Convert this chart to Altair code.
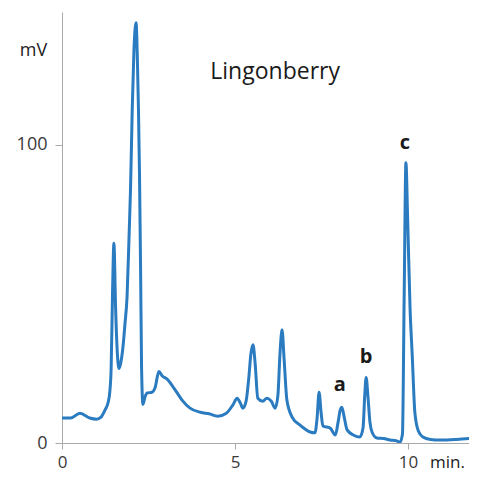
import altair as alt
import pandas as pd

# retention time (min) and detector signal (mV)
time_min = [0, 0.25, 0.52, 0.8, 1.0, 1.12, 1.24, 1.33, 1.38, 1.42, 1.46, 1.50, 1.55, 1.60, 1.65,
            1.70, 1.76, 1.82, 1.88, 1.94, 1.98, 2.03, 2.08, 2.14, 2.18, 2.21, 2.24, 2.27, 2.30,
            2.34, 2.40, 2.46, 2.60, 2.69, 2.80, 2.90, 3.03, 3.27, 3.47, 3.70, 4.0, 4.25, 4.50,
            4.75, 4.94, 5.06, 5.15, 5.23, 5.32, 5.40, 5.46, 5.52, 5.58, 5.66, 5.80, 5.92, 6.05,
            6.16, 6.24, 6.30, 6.36, 6.42, 6.50, 6.65, 6.88, 7.17, 7.31, 7.37, 7.43, 7.49, 7.54,
            7.75, 7.90, 7.98, 8.04, 8.09, 8.15, 8.24, 8.42, 8.61, 8.70, 8.75, 8.79, 8.84, 8.90,
            8.96, 9.10, 9.30, 9.48, 9.65, 9.77, 9.84, 9.89, 9.94, 9.99, 10.06, 10.12, 10.20,
            10.30, 10.43, 10.65, 10.92, 11.4, 12.0]
signal_mv = [8.4, 8.4, 10, 8.4, 8, 8.6, 11, 13.5, 17, 25, 50, 67, 45, 30, 25,
             27, 32, 40, 49, 70, 85, 112, 132, 141, 128, 112, 90, 60, 25,
             13, 15.5, 16.8, 17, 18.5, 24, 22.5, 21.5, 17.8, 14.4, 11.7, 10.3, 9.8, 9,
             10, 12.8, 15, 13.5, 11.7, 14, 22, 30, 33, 27, 15, 14, 15, 14,
             11.7, 16, 30, 38, 28, 14.4, 8.7, 6, 3.7, 3.4, 8, 17, 10, 5.7,
             5, 2.7, 7, 11, 12, 9, 4.4, 2.7, 2, 5, 16, 22, 16, 7,
             3.7, 1.7, 1.5, 1, 0.8, 0.3, 3, 50, 94, 75, 45, 30, 10,
             4, 2, 1.2, 1, 1.2, 1.7]

peak_labels = ["a", "b", "c"]
peak_label_x = [8.03, 8.79, 9.91]
peak_label_y = [19.5, 29, 100.7]

title_text = ["Lingonberry"]
title_x = [6.16]
title_y = [124.5]

x_ticks = [0, 5, 10]
y_ticks = [0, 100]

df = pd.DataFrame({"t": time_min, "mv": signal_mv})
df_peaks = pd.DataFrame({"label": peak_labels, "t": peak_label_x, "mv": peak_label_y})
df_title = pd.DataFrame({"label": title_text, "t": title_x, "mv": title_y})

FONT = "Open Sans"
TXT = "#3a3a3a"

xscale = alt.Scale(domain=[0, 11.763], nice=False, zero=False)
yscale = alt.Scale(domain=[0, 144.6], nice=False)

xaxis = alt.Axis(values=x_ticks, title="min.", titleAngle=0, titleX=385, titleY=24,
                 titleAlign="center", titleBaseline="alphabetic", titleFontWeight="normal",
                 titleFontSize=17, titleColor="#222222", titleFont=FONT,
                 labelFontSize=17, labelColor=TXT, labelFont=FONT, labelPadding=18,
                 labelBaseline="alphabetic",
                 tickSize=6, tickColor="#aaaaaa", domainColor="#aaaaaa", grid=False,
                 labelFlush=False)
yaxis = alt.Axis(values=y_ticks, title="mV", titleAngle=0, titleX=-29, titleY=38,
                 titleAlign="center", titleBaseline="middle", titleFontWeight="normal",
                 titleFontSize=18, titleColor="#222222", titleFont=FONT,
                 labelFontSize=18, labelColor=TXT, labelFont=FONT, labelPadding=8,
                 tickSize=7, tickColor="#aaaaaa", domainColor="#aaaaaa", grid=False)

line = alt.Chart(df).mark_line(color="#2a7bbf", strokeWidth=3, clip=True,
                               interpolate="monotone").encode(
    x=alt.X("t:Q", scale=xscale, axis=xaxis),
    y=alt.Y("mv:Q", scale=yscale, axis=yaxis),
)

peaks = alt.Chart(df_peaks).mark_text(fontSize=20, fontWeight="bold", font=FONT,
                                      color="#1a1a1a").encode(
    x=alt.X("t:Q", scale=xscale), y=alt.Y("mv:Q", scale=yscale), text="label:N")

title = alt.Chart(df_title).mark_text(fontSize=23, font=FONT, color="#1a1a1a").encode(
    x=alt.X("t:Q", scale=xscale), y=alt.Y("mv:Q", scale=yscale), text="label:N")

chart = alt.layer(line, peaks, title).properties(
    width=407, height=431,
    autosize=alt.AutoSizeParams(type="none"),
    padding={"left": 54, "top": 4, "right": 0, "bottom": 28},
).configure_view(stroke=None)

chart.save("out.html", embed_options={"renderer": "svg", "actions": False})
